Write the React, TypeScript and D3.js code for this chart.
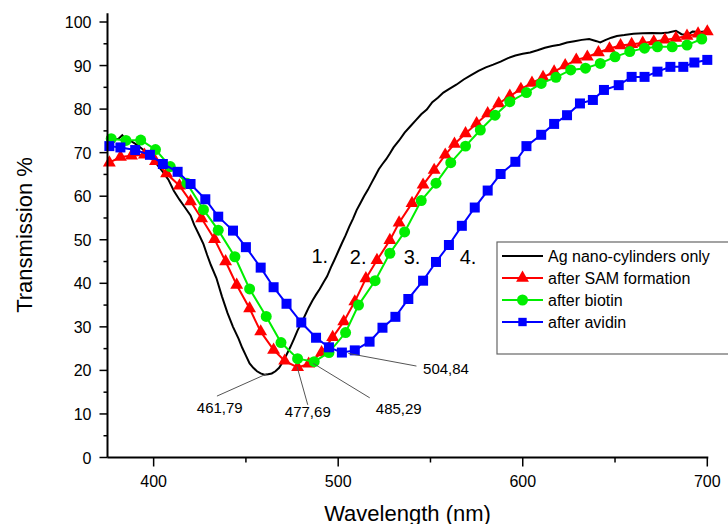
import * as d3 from 'd3'

const W = 728
const H = 524

// wavelength (nm), transmission (%)
const agOnly: [number, number][] = [
  [375, 72.5], [378, 73.0], [381, 73.2], [383, 74.0], [385, 73.0], [388, 72.6], [391, 71.8], [394, 70.8],
  [397, 69.8], [400, 68.3], [402, 67.2], [405, 65.6], [408, 63.8], [411, 61.2], [414, 59.2], [417, 57.4],
  [420, 55.6], [422, 53.4], [425, 50.8], [427, 49.0], [429, 46.5], [431, 44.2], [434, 41.2], [437, 37.0],
  [440, 33.2], [443, 30.0], [446, 27.3], [448, 25.2], [450, 23.4], [452, 21.6], [454, 20.6], [456, 19.8],
  [458, 19.3], [460, 19.0], [462, 19.1], [464, 19.3], [466, 19.8], [468, 20.6], [470, 22.0], [472, 23.6],
  [474, 25.3], [476, 27.2], [478, 29.2], [480, 30.8], [482, 32.6], [484, 34.4], [486, 36.0], [488, 37.4],
  [490, 38.7], [492, 40.2], [494, 41.6], [496, 43.6], [498, 45.4], [500, 47.3], [502, 49.2], [504, 51.0],
  [506, 53.0], [508, 54.8], [510, 56.8], [512, 58.4], [514, 60.0], [516, 61.4], [518, 63.0], [520, 64.6],
  [522, 66.2], [524, 67.4], [526, 68.5], [528, 69.8], [530, 71.2], [533, 72.8], [536, 74.6], [539, 76.0],
  [542, 77.4], [545, 78.8], [548, 79.9], [551, 81.6], [554, 82.6], [557, 83.8], [560, 84.6], [564, 85.6],
  [568, 86.8], [572, 87.8], [576, 88.8], [580, 89.6], [584, 90.2], [588, 90.9], [592, 91.7], [596, 92.3],
  [600, 92.7], [604, 93.0], [608, 93.5], [612, 94.1], [616, 94.5], [620, 94.8], [624, 95.3], [628, 95.6],
  [632, 95.9], [636, 96.1], [640, 95.6], [642, 95.3], [645, 95.9], [648, 96.4], [651, 96.8], [655, 97.0],
  [660, 97.3], [665, 97.4], [670, 97.5], [675, 97.4], [679, 97.6], [683, 98.0], [686, 97.2], [689, 97.0],
  [692, 97.8], [696, 97.7], [700, 97.9],
]

const afterSam: [number, number][] = [
  [376, 67.7], [382, 69.0], [388, 69.3], [395, 69.5], [401, 68.0], [407, 65.2], [414, 62.4], [420, 58.8],
  [426, 54.9], [433, 50.1], [439, 45.0], [445, 39.6], [452, 34.2], [458, 28.9], [465, 24.7], [471, 22.2],
  [478, 20.7], [484, 21.5], [491, 24.1], [497, 27.6], [503, 31.2], [509, 35.8], [515, 41.1], [521, 45.3],
  [528, 49.9], [533, 53.9], [540, 58.4], [546, 62.6], [552, 66.0], [558, 69.5], [563, 72.0], [569, 74.4],
  [575, 76.7], [581, 79.0], [587, 81.3], [593, 83.0], [599, 84.6], [605, 86.0], [611, 87.3], [617, 88.6],
  [623, 90.0], [629, 91.3], [635, 92.0], [641, 93.0], [647, 93.9], [653, 94.6], [659, 94.9], [665, 95.2],
  [671, 95.5], [677, 95.9], [683, 96.3], [689, 96.8], [695, 97.3], [700, 97.8],
]

const afterBiotin: [number, number][] = [
  [377, 73.2], [385, 72.8], [393, 72.9], [401, 70.7], [409, 66.8], [418, 63.0], [427, 56.9], [435, 52.2],
  [444, 46.1], [452, 38.7], [461, 32.4], [469, 26.4], [478, 22.7], [487, 22.0], [495, 24.1], [504, 28.7],
  [511, 35.0], [520, 40.6], [528, 46.9], [536, 51.8], [545, 59.0], [553, 63.0], [561, 67.7], [569, 71.5],
  [577, 75.2], [585, 78.6], [593, 81.7], [602, 83.8], [610, 85.9], [618, 87.3], [626, 89.0], [634, 89.4],
  [642, 90.5], [650, 92.0], [658, 93.2], [666, 94.0], [673, 94.3], [681, 94.3], [689, 94.7], [697, 96.1],
]

const afterAvidin: [number, number][] = [
  [376, 71.5], [382, 71.2], [390, 70.6], [398, 69.5], [405, 67.4], [413, 65.6], [420, 62.8], [428, 59.3],
  [435, 55.3], [443, 52.1], [450, 48.3], [458, 43.6], [465, 39.1], [472, 35.3], [480, 31.0], [488, 27.5],
  [495, 25.3], [502, 24.1], [509, 24.6], [517, 26.6], [524, 29.8], [531, 32.3], [538, 36.4], [546, 40.6],
  [553, 44.9], [560, 48.8], [567, 53.2], [574, 57.4], [581, 61.3], [588, 65.1], [596, 67.9], [602, 71.5],
  [610, 74.1], [617, 76.6], [624, 78.6], [631, 81.3], [638, 82.1], [644, 84.4], [652, 85.5], [659, 87.4],
  [666, 87.4], [673, 88.6], [680, 89.7], [687, 89.7], [693, 90.7], [700, 91.3],
]

const xTicks = [400, 500, 600, 700]
const xMinor = [450, 550, 650]
const yTicks = [0, 10, 20, 30, 40, 50, 60, 70, 80, 90, 100]
const yMinor = [5, 15, 25, 35, 45, 55, 65, 75, 85, 95]

// minimum annotations: label, anchor point, line end, label position (data units)
const minLabels = ['461,79', '477,69', '485,29', '504,84']
const minAnchor: [number, number][] = [[461.79, 19.3], [477.69, 20.9], [486.5, 21.6], [505.5, 23.9]]
const minLineEnd: [number, number][] = [[434.3, 14.1], [483.5, 12.1], [517.1, 13.7], [542.4, 21.0]]
const minLabelPos: [number, number][] = [[423.4, 10.3], [471.1, 9.3], [520.4, 10.0], [546.0, 19.2]]

const curveNames = ['1.', '2.', '3.', '4.']
const curveNamePos: [number, number][] = [[485.5, 44.7], [506.3, 44.5], [535.5, 44.5], [565.8, 44.4]]

const legendNames = ['Ag nano-cylinders only', 'after SAM formation', 'after biotin', 'after avidin']

const font = '"Liberation Sans", Arial, sans-serif'

const x = d3.scaleLinear().domain([375, 700]).range([107.5, 707.3])
const y = d3.scaleLinear().domain([0, 102]).range([457.5, 13.3])

const line = d3.line<[number, number]>().x(d => x(d[0])).y(d => y(d[1]))

const triangle = d3.symbol().type(d3.symbolTriangle).size(72)() as string
const circle = d3.symbol().type(d3.symbolCircle).size(95)() as string
const square = d3.symbol().type(d3.symbolSquare).size(100)() as string
const squareSmall = d3.symbol().type(d3.symbolSquare).size(70)() as string

const series = [
  { data: afterSam, color: '#ff0000', marker: triangle },
  { data: afterBiotin, color: '#00ee00', marker: circle },
  { data: afterAvidin, color: '#0000ff', marker: square },
]

export default function App() {
  const x0 = x(375)
  const yBase = y(0)
  return (
    <svg width={W} height={H} style={{ position: 'absolute', left: 0, top: 0, background: '#fff' }} fontFamily={font}>
      <rect width={W} height={H} fill="#fff" />

      {/* black curve */}
      <path d={line(agOnly) as string} fill="none" stroke="#000" strokeWidth={2} />

      {series.map((s, i) => (
        <g key={i}>
          <path d={line(s.data) as string} fill="none" stroke={s.color} strokeWidth={2} />
          {s.data.map((d, j) => (
            <path key={j} d={s.marker} transform={`translate(${x(d[0])},${y(d[1])})`} fill={s.color} />
          ))}
        </g>
      ))}

      {/* axes */}
      <line x1={x0} x2={x0} y1={yBase} y2={y(102)} stroke="#000" strokeWidth={2} />
      <line x1={x0} x2={x(700) + 1} y1={yBase} y2={yBase} stroke="#000" strokeWidth={2} />
      {yTicks.map(t => (
        <g key={t}>
          <line x1={x0 - 8} x2={x0} y1={y(t)} y2={y(t)} stroke="#000" strokeWidth={1.5} />
          <text x={x0 - 16} y={y(t) + 6} textAnchor="end" fontSize={16}>{t}</text>
        </g>
      ))}
      {yMinor.map(t => (
        <line key={t} x1={x0 - 4} x2={x0} y1={y(t)} y2={y(t)} stroke="#000" strokeWidth={1.5} />
      ))}
      {xTicks.map(t => (
        <g key={t}>
          <line x1={x(t)} x2={x(t)} y1={yBase} y2={yBase + 9} stroke="#000" strokeWidth={1.5} />
          <text x={x(t)} y={yBase + 29} textAnchor="middle" fontSize={16}>{t}</text>
        </g>
      ))}
      {xMinor.map(t => (
        <line key={t} x1={x(t)} x2={x(t)} y1={yBase} y2={yBase + 5} stroke="#000" strokeWidth={1.5} />
      ))}

      <text transform={`translate(32,235) rotate(-90)`} textAnchor="middle" fontSize={22}>Transmission %</text>
      <text x={407.5} y={521} textAnchor="middle" fontSize={22}>Wavelength (nm)</text>

      {/* minimum annotations */}
      {minLabels.map((lab, i) => (
        <g key={lab}>
          <line
            x1={x(minAnchor[i][0])} y1={y(minAnchor[i][1])}
            x2={x(minLineEnd[i][0])} y2={y(minLineEnd[i][1])}
            stroke="#555" strokeWidth={1}
          />
          <text x={x(minLabelPos[i][0])} y={y(minLabelPos[i][1])} fontSize={15}>{lab}</text>
        </g>
      ))}

      {curveNames.map((n, i) => (
        <text key={n} x={x(curveNamePos[i][0])} y={y(curveNamePos[i][1])} fontSize={20}>{n}</text>
      ))}

      {/* legend */}
      <g transform="translate(497,242)">
        <rect x={0} y={0} width={240} height={112} fill="#fff" stroke="#666" strokeWidth={1.2} />
        {legendNames.map((n, i) => {
          const cy = 14 + i * 22
          const color = i === 0 ? '#000' : series[i - 1].color
          const mk = i === 0 ? null : i === 3 ? squareSmall : series[i - 1].marker
          return (
            <g key={n}>
              <line x1={5} x2={46} y1={cy} y2={cy} stroke={color} strokeWidth={2} />
              {mk && <path d={mk} transform={`translate(25.5,${cy})`} fill={color} />}
              <text x={51} y={cy + 6} fontSize={16}>{n}</text>
            </g>
          )
        })}
      </g>
    </svg>
  )
}
